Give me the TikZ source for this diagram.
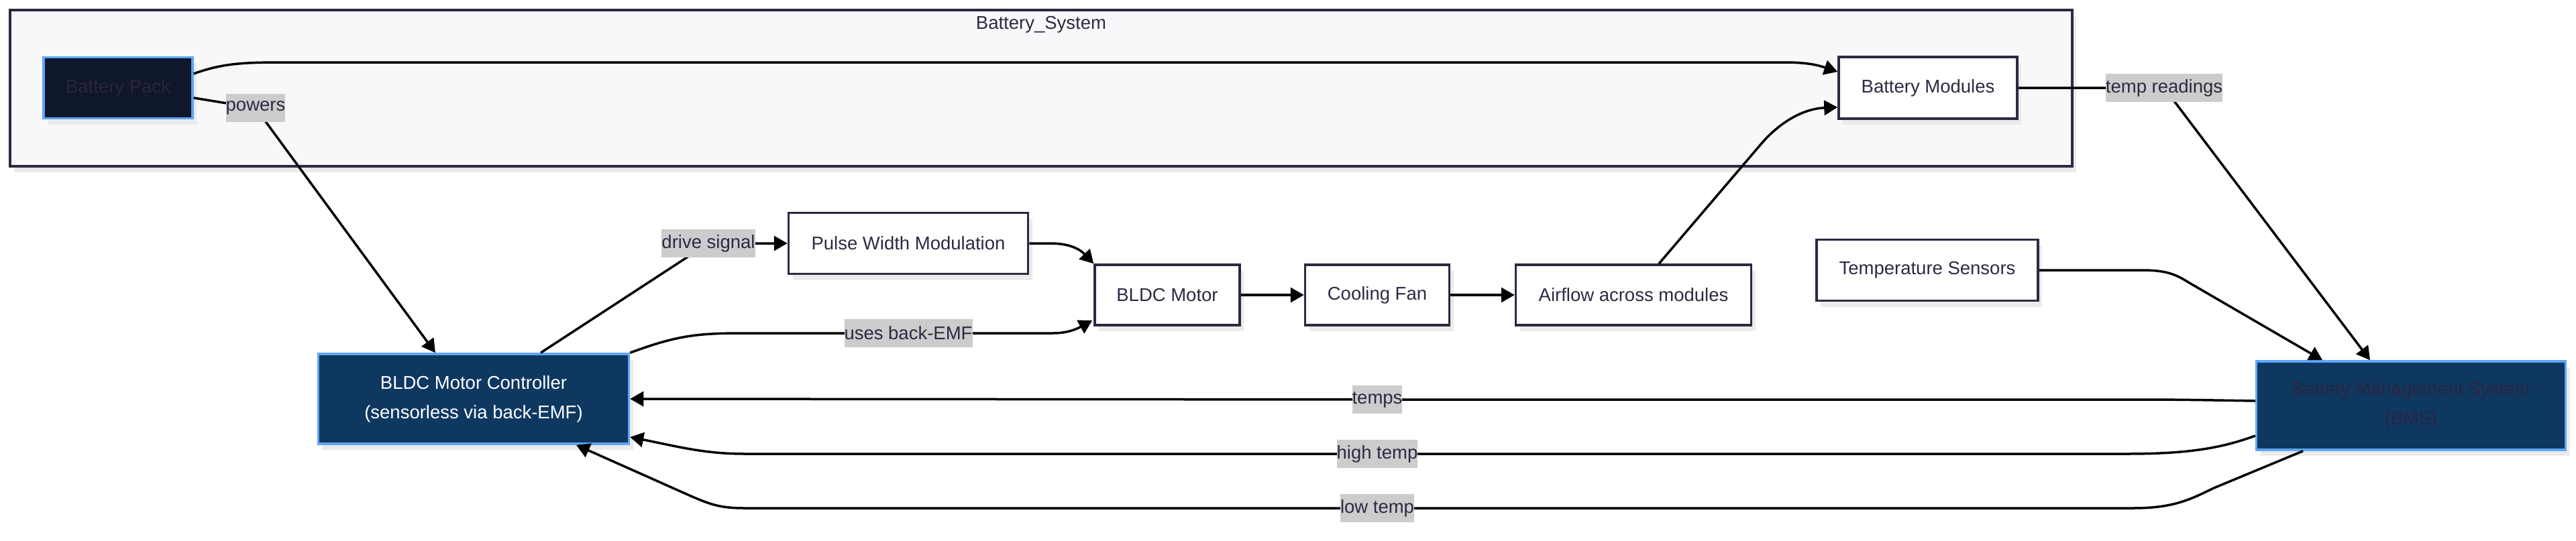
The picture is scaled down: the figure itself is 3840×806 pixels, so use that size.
\documentclass[tikz,border=0pt]{standalone}
\usepackage{fontspec}
\setmainfont{Liberation Sans}
\usetikzlibrary{arrows.meta,shadows,calc}
\definecolor{ink}{HTML}{2B2A42}
\definecolor{clfill}{HTML}{F8F8FA}
\definecolor{lblue}{HTML}{5FA5F8}
\definecolor{navy}{HTML}{0F3861}
\definecolor{night}{HTML}{0F172A}
\definecolor{labgray}{HTML}{CCCCCC}
\definecolor{darktext}{HTML}{2C2440}
\begin{document}
\begin{tikzpicture}[x=1pt,y=-1pt,
  font=\fontsize{27.5}{44}\selectfont,
  shad/.style={drop shadow={shadow xshift=6pt,shadow yshift=-9pt,fill=black!8,opacity=1}},
  box/.style={shad,draw=ink,line width=3.5pt,fill=white,text=ink,inner sep=0pt,align=center},
  darkbox/.style={shad,draw=lblue,line width=3.5pt,inner sep=0pt,align=center},
  cluster/.style={shad,draw=ink,line width=3.5pt,fill=clfill,inner sep=0pt},
  lab/.style={fill=labgray,text=ink,inner xsep=0pt,inner ysep=0pt,minimum height=42pt},
  conn/.style={line width=3.5pt,draw=black,-{Triangle[length=20pt,width=22pt]}},
]
\useasboundingbox (0,0) rectangle (3840,806);
% cluster
\node[cluster,minimum width=3074pt,minimum height=233pt] (sys) at (1552,131.5) {};
\node[text=ink] (systitle) at (1552,37) {Battery\_System};
% nodes
\node[darkbox,fill=night,text=darktext,minimum width=222pt,minimum height=91pt] (bp) at (176,131) {Battery Pack};
\node[box,minimum width=266pt,minimum height=92pt] (bm) at (2874,131) {Battery Modules};
\node[box,minimum width=357pt,minimum height=91pt] (pwm) at (1354,363) {Pulse Width Modulation};
\node[box,minimum width=216pt,minimum height=90pt] (motor) at (1740,440) {BLDC Motor};
\node[box,minimum width=215pt,minimum height=90pt] (fan) at (2053,440) {Cooling Fan};
\node[box,minimum width=351pt,minimum height=90pt] (air) at (2435,440) {Airflow across modules};
\node[box,minimum width=330pt,minimum height=91pt] (ts) at (2873,403) {Temperature Sensors};
\node[darkbox,fill=navy,text=white,minimum width=463pt,minimum height=134pt] (ctrl) at (706,595) {BLDC Motor Controller\\(sensorless via back-EMF)};
\node[darkbox,fill=navy,text=darktext,minimum width=461pt,minimum height=132pt] (bms) at (3594,605) {Battery Management System\\(BMS)};
% label positions
\coordinate (cPowers) at (381,161);
\coordinate (cDrive) at (1056,363);
\coordinate (cBack) at (1354,497);
\coordinate (cRead) at (3226,131);
\coordinate (cTemps) at (2053,596);
\coordinate (cHigh) at (2053,677);
\coordinate (cLow) at (2053,758);
% edges
\draw[conn] ($(bp.east)+(0,-21)$) .. controls (330,95) and (360,93) .. (420,93) -- (2660,93) .. controls (2700,93) and (2715,99) .. ($(bm.west)+(0,-24)$);
\draw[conn] ($(bp.east)+(0,15)$) -- (cPowers) -- ($(ctrl.north)+(-57,0)$);
\draw[conn] ($(ctrl.north)+(100,0)$) -- (cDrive) -- (pwm.west);
\draw[conn] (pwm.east) -- (1565,363) .. controls (1595,363) and (1610,372) .. (motor.north west);
\draw[conn] (ctrl.north east) .. controls (1010,500) and (1040,497) .. (1110,497) -- (cBack) -- (1570,497) .. controls (1595,497) and (1610,488) .. ($(motor.west)+(-2,38)$);
\draw[conn] (motor.east) -- (fan.west);
\draw[conn] (fan.east) -- (air.west);
\draw[conn] ($(air.north)+(38,0)$) -- (2625,215) .. controls (2655,180) and (2690,162) .. ($(bm.west)+(0,29)$);
\draw[conn] (bm.east) -- (cRead) -- ($(bms.north)+(-61,0)$);
\draw[conn] (ts.east) -- (3190,403) .. controls (3225,403) and (3240,407) .. (3262,421) -- ($(bms.north)+(-132,0)$);
\draw[conn] ($(bms.west)+(0,-7)$) .. controls (3300,597) and (3250,596) .. (3190,596) -- (cTemps) -- (ctrl.east);
\draw[conn] ($(bms.west)+(0,45)$) .. controls (3310,669) and (3260,677) .. (3170,677) -- (cHigh) -- (1110,677) .. controls (1050,677) and (1010,666) .. ($(ctrl.east)+(0,57)$);
\draw[conn] ($(bms.south)+(-161,0)$) -- (3300,728) .. controls (3265,745) and (3240,758) .. (3180,758) -- (cLow) -- (1110,758) .. controls (1075,758) and (1060,753) .. (1030,740) -- ($(ctrl.south)+(153,0)$);
% labels
\node[lab] (lPowers) at (cPowers) {powers};
\node[lab] (lDrive) at (cDrive) {drive signal};
\node[lab] (lBack) at (cBack) {uses back-EMF};
\node[lab] (lRead) at (cRead) {temp readings};
\node[lab] (lTemps) at (cTemps) {temps};
\node[lab] (lHigh) at (cHigh) {high temp};
\node[lab] (lLow) at (cLow) {low temp};
\end{tikzpicture}
\end{document}
